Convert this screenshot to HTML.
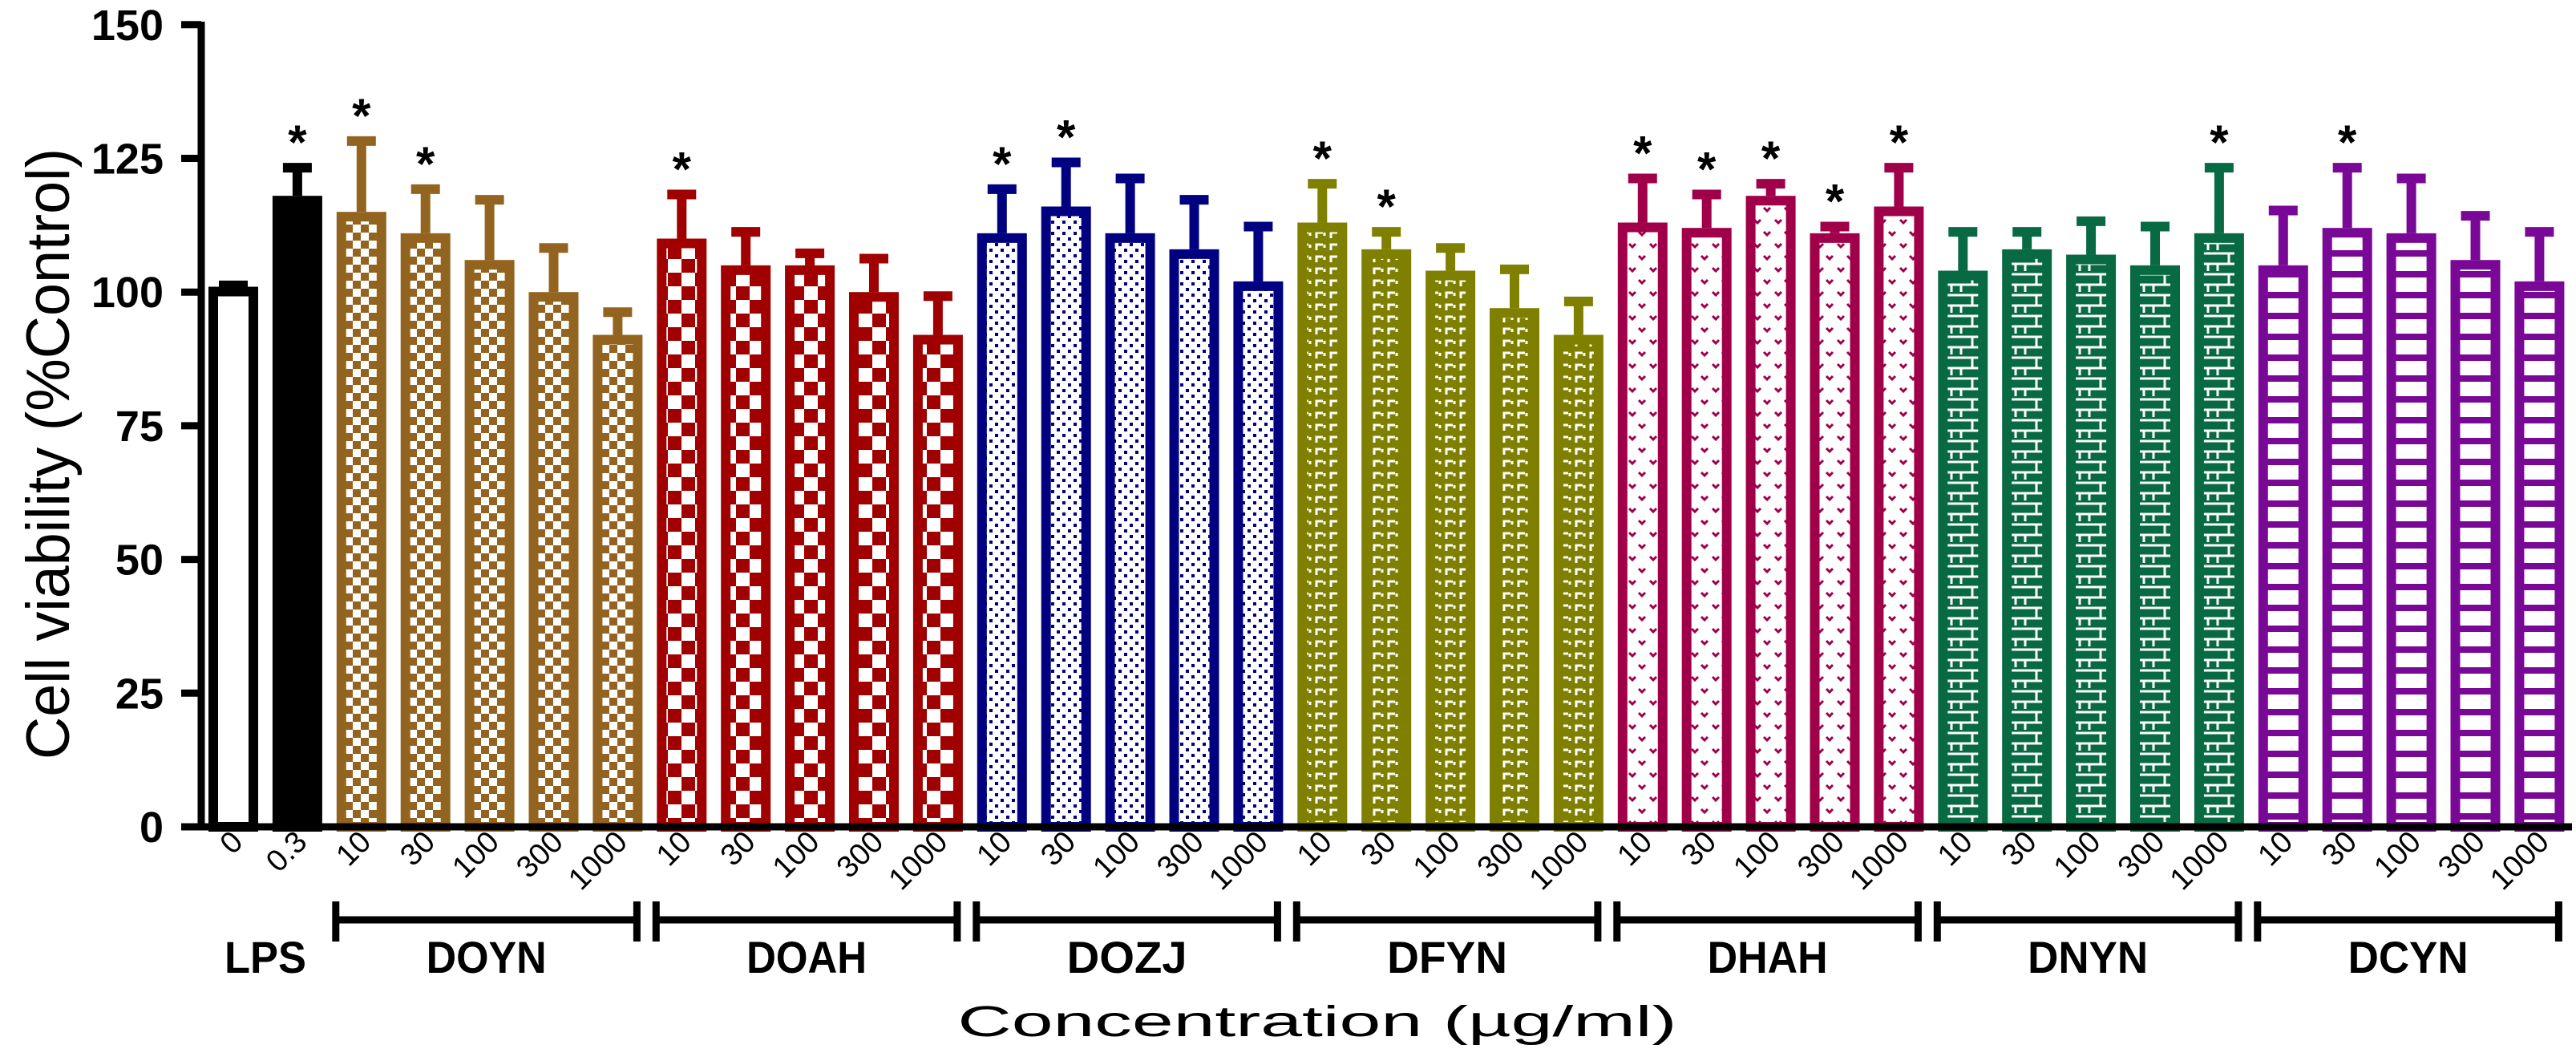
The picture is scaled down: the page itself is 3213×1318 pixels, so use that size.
<!DOCTYPE html>
<html><head><meta charset="utf-8">
<style>
html,body{margin:0;padding:0;background:#fff;}
svg{display:block;font-family:"Liberation Sans",Arial,sans-serif;}
</style></head>
<body>
<svg id="chart" width="3213" height="1318" viewBox="0 0 3213 1318" xmlns="http://www.w3.org/2000/svg">
<defs>
  <pattern id="p-doyn" width="20" height="20" patternUnits="userSpaceOnUse">
    <rect width="20" height="20" fill="#936420"/><rect x="0" y="0" width="10" height="10" fill="#fff"/><rect x="10" y="10" width="10" height="10" fill="#fff"/>
  </pattern>
  <pattern id="p-doah" width="34" height="34" patternUnits="userSpaceOnUse">
    <rect width="34" height="34" fill="#fff"/><rect x="17" y="0" width="17" height="17" fill="#a00000"/><rect x="0" y="17" width="17" height="17" fill="#a00000"/>
  </pattern>
  <pattern id="p-dozj" width="14" height="14" patternUnits="userSpaceOnUse">
    <rect width="14" height="14" fill="#fff"/><rect x="2" y="2" width="4" height="4" fill="#000080"/><rect x="9" y="9" width="4" height="4" fill="#000080"/>
  </pattern>
  <pattern id="p-dfyn" width="18" height="15" patternUnits="userSpaceOnUse">
    <rect width="18" height="15" fill="#808000"/><path d="M4 12V5h8M14 5v4" stroke="#fff" stroke-width="3" fill="none"/>
  </pattern>
  <pattern id="p-dhah" width="26" height="30" patternUnits="userSpaceOnUse">
    <rect width="26" height="30" fill="#fff"/><path d="M4 4l4 4 4-4M16 19l4 4 4-4" stroke="#a0004a" stroke-width="3" fill="none"/>
  </pattern>
  <pattern id="p-dnyn" width="40" height="26" patternUnits="userSpaceOnUse">
    <rect width="40" height="26" fill="#086a42"/><path d="M0 4h40M0 17h40M20 4v13M6 17v9M34 17v9" stroke="#fff" stroke-width="3" fill="none"/>
  </pattern>
  <pattern id="p-dcyn" width="20" height="26" patternUnits="userSpaceOnUse">
    <rect width="20" height="26" fill="#fff"/><rect x="0" y="0" width="20" height="8" fill="#7a0896"/>
  </pattern>
</defs>
<g id="bars"></g>
<g id="axes"></g>
</svg>
<script>
const categories = ["0","0.3","10","30","100","300","1000","10","30","100","300","1000","10","30","100","300","1000","10","30","100","300","1000","10","30","100","300","1000","10","30","100","300","1000","10","30","100","300","1000"];
const values = [101,118, 115,111,106,100,92, 110,105,105,100,92, 111,116,111,108,102, 113,108,104,97,92, 113,112,118,111,116, 104,108,107,105,111, 105,112,111,106,102];
const errorTops = [102,124, 129,120,118,109,97, 119,112,108,107,100, 120,125,122,118,113, 121,112,109,105,99, 122,119,121,113,124, 112,112,114,113,124, 116,124,122,115,112];
const significant = [0,1, 1,1,0,0,0, 1,0,0,0,0, 1,1,0,0,0, 1,1,0,0,0, 1,1,1,1,1, 0,0,0,0,1, 0,1,0,0,0];
const groups = ["LPS","DOYN","DOAH","DOZJ","DFYN","DHAH","DNYN","DCYN"];
const yTicks = [0,25,50,75,100,125,150];

const NS="http://www.w3.org/2000/svg";
const svg=document.getElementById('chart');
const gb=document.getElementById('bars'), ga=document.getElementById('axes');
const Y0=1031, PX25=166.7;
const y=v=>Y0 - v/25*PX25;
const x=i=>291 + i*79.9;
const BW=62;
const colors={LPS:"#000",DOYN:"#936420",DOAH:"#a00000",DOZJ:"#000080",DFYN:"#808000",DHAH:"#a0004a",DNYN:"#086a42",DCYN:"#7a0896"};
function mk(tag,attrs,parent){const e=document.createElementNS(NS,tag);for(const k in attrs)e.setAttribute(k,attrs[k]);(parent||svg).appendChild(e);return e;}
function groupOf(i){return i<2?"LPS":groups[1+Math.floor((i-2)/5)];}

categories.forEach((c,i)=>{
  const g=groupOf(i), col=colors[g];
  const fill = g==="LPS" ? (i===0?"#fff":"#000") : "url(#p-"+g.toLowerCase()+")";
  const cx=x(i), top=y(values[i]);
  const et=y(errorTops[i]);
  const eb=mk('line',{x1:cx,x2:cx,y1:top,y2:et,stroke:col,'stroke-width':12},gb);
  
  
  const cap=mk('line',{x1:cx-18,x2:cx+18,y1:et+5,y2:et+5,stroke:col,'stroke-width':12},gb);
  
  
  const r=mk('rect',{x:cx-BW/2+6,y:top+6,width:BW-12,height:Y0-top-6,fill:fill,stroke:col,'stroke-width':12},gb);
  
  
  if(significant[i]){
    const s=mk('text',{x:cx,y:et-6,'font-size':60,'font-weight':'bold','text-anchor':'middle',fill:'#000'},gb);
    s.textContent='*';
    
    
  }
  const t=mk('text',{x:cx+14,y:1052,'font-size':38,'text-anchor':'end',fill:'#000',transform:`rotate(-45 ${cx+14} 1052)`},ga);
  t.textContent=c;
  
  
});

const ax=mk('line',{x1:250,x2:3208,y1:Y0,y2:Y0,stroke:'#000','stroke-width':9},ga);


const ay=mk('line',{x1:251,x2:251,y1:27,y2:Y0+4,stroke:'#000','stroke-width':9},ga);


yTicks.forEach(v=>{
  const tk=mk('line',{x1:226,x2:251,y1:y(v),y2:y(v),stroke:'#000','stroke-width':9},ga);
  
  
  const tl=mk('text',{x:204,y:y(v)+19,'font-size':54,'font-weight':'bold','text-anchor':'end',fill:'#000'},ga);
  tl.textContent=v;
  
  
});

groups.forEach((g,k)=>{
  let cx;
  if(k===0){cx=(x(0)+x(1))/2;}
  else{
    const a=x(2+(k-1)*5)-32, b=x(6+(k-1)*5)+24;
    const br=mk('path',{d:`M${a} 1124V1174M${a} 1147H${b}M${b} 1124V1174`,stroke:'#000','stroke-width':9,fill:'none'},ga);
    
    
    cx=(a+b)/2;
  }
  const gl=mk('text',{x:cx,y:1213,'font-size':56,'font-weight':'bold','text-anchor':'middle',fill:'#000',textLength:(g==='LPS'?102:150),lengthAdjust:'spacingAndGlyphs'},ga);
  gl.textContent=g;
  
  
});

const xt=mk('text',{x:1643,y:1292,'font-size':54,'text-anchor':'middle',fill:'#000',textLength:897,lengthAdjust:'spacingAndGlyphs'},ga);
xt.textContent='Concentration (µg/ml)';


const yt=mk('text',{x:86,y:566,'font-size':76,'text-anchor':'middle',fill:'#000',textLength:762,lengthAdjust:'spacingAndGlyphs',transform:'rotate(-90 86 566)'},ga);
yt.textContent='Cell viability (%Control)';


</script>
</body></html>
